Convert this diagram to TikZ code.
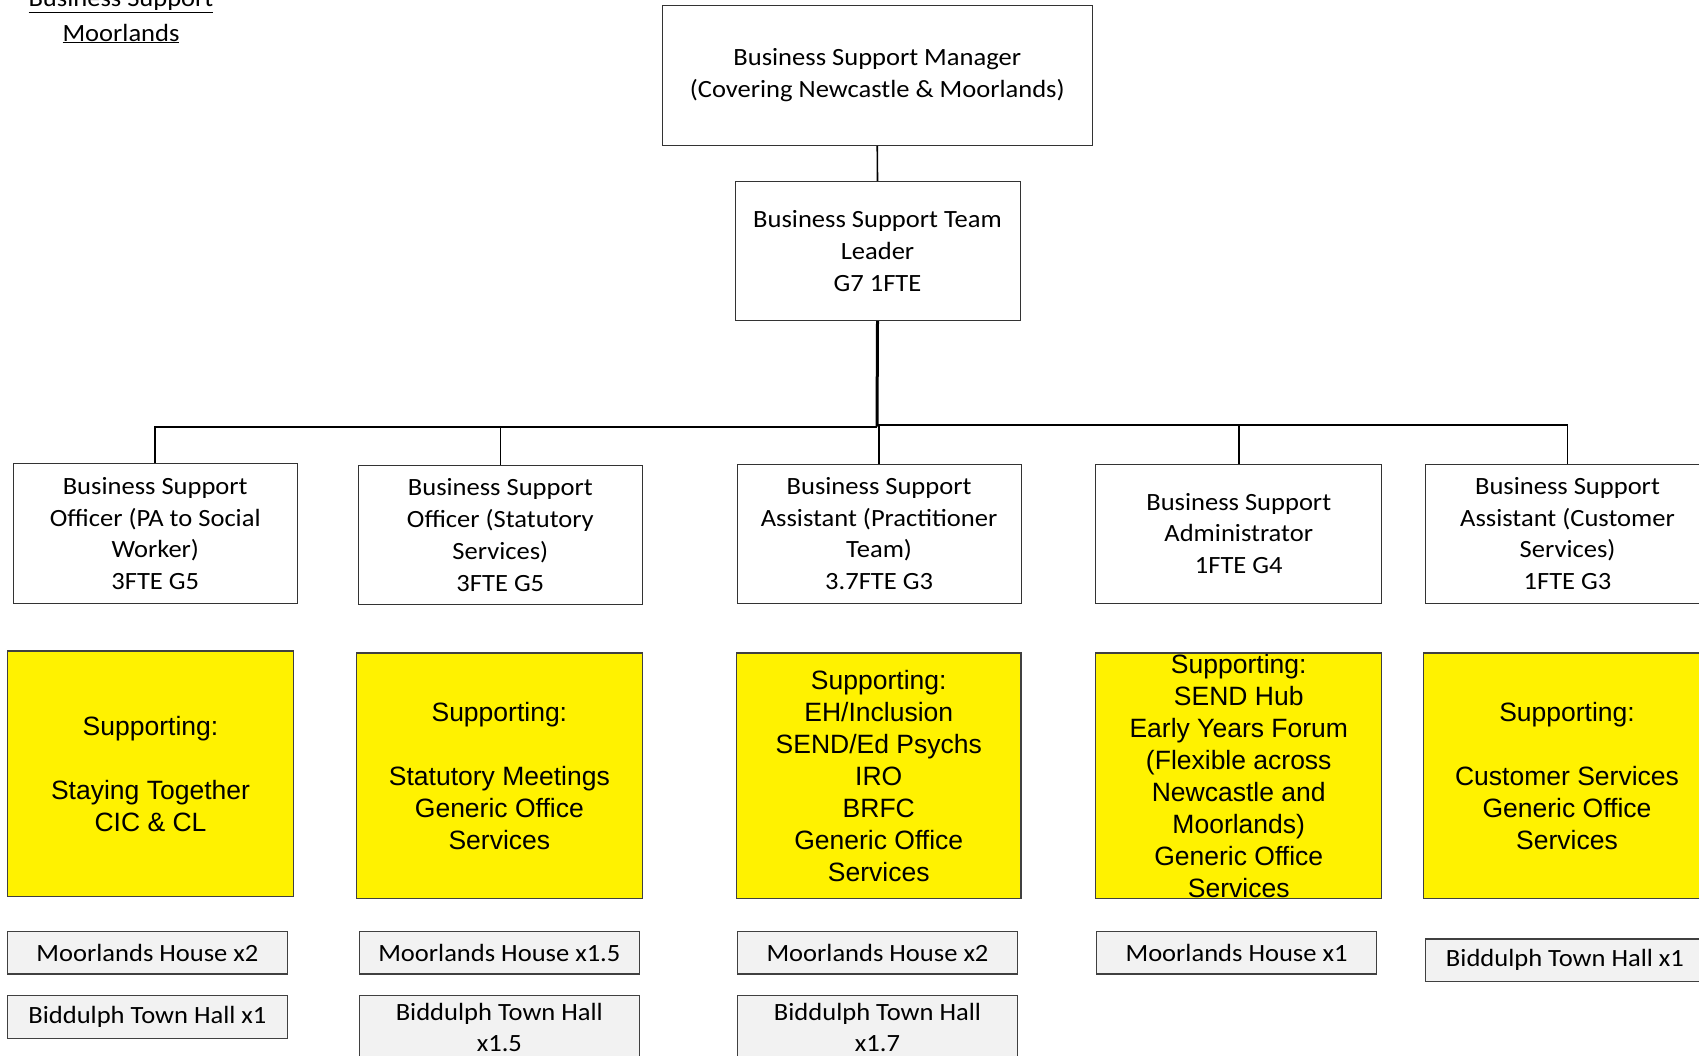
\documentclass[tikz,border=0pt]{standalone}
\usepackage{fontspec}
\setmainfont{Carlito}[FakeStretch=1.07]
\newfontfamily\arialf{Liberation Sans}
\begin{document}
\begin{tikzpicture}[
  x=1pt, y=-1pt,
  box/.style={draw=black!80, line width=1pt, fill=white, inner sep=0pt, align=center,
              font=\fontsize{24.8}{31.7}\selectfont},
  ybox/.style={draw=black!75, line width=1.3pt, fill=yellow, inner sep=0pt, align=center,
              font=\arialf\fontsize{26.5}{32}\selectfont},
  gbox/.style={draw=black!75, line width=1.3pt, fill=black!5, inner sep=0pt, align=center,
              font=\fontsize{24.8}{31}\selectfont},
  titletext/.style={inner sep=0pt, align=center, font=\fontsize{24.8}{34.7}\selectfont},
  conn/.style={line width=1.6pt, black},
]
\useasboundingbox (0,0) rectangle (1699,1055);
\clip (0,0) rectangle (1699,1055);

% title
\node[titletext] (ttl) at (121,16.3) {\underline{Business Support}\\\underline{Moorlands}};

% top levels
\node[box, minimum width=430.5pt, minimum height=140.5pt] (mgr) at (877.25,75.25)
  {Business Support Manager\\(Covering Newcastle \& Moorlands)};
\node[box, minimum width=285pt, minimum height=139pt] (tl) at (877.5,251.2)
  {Business Support Team\\Leader\\G7 1FTE};

% second level
\node[box, minimum width=284.5pt, minimum height=140pt] (b1) at (155.25,533.5)
  {Business Support\\Officer (PA to Social\\Worker)\\3FTE G5};
\node[box, minimum width=284.7pt, minimum height=138.6pt] (b2) at (500.35,535)
  {Business Support\\Officer (Statutory\\Services)\\3FTE G5};
\node[box, minimum width=283.8pt, minimum height=138.7pt] (b3) at (879.1,533.65)
  {Business Support\\Assistant (Practitioner\\Team)\\3.7FTE G3};
\node[box, minimum width=286pt, minimum height=139pt] (b4) at (1238.75,533.5)
  {Business Support\\Administrator\\1FTE G4};
\node[box, minimum width=285pt, minimum height=139pt] (b5) at (1567.5,533.5)
  {Business Support\\Assistant (Customer\\Services)\\1FTE G3};

% yellow boxes
\node[ybox, minimum width=286.2pt, minimum height=245.7pt] (y1) at (150.5,773.85)
  {Supporting:\\\mbox{}\\Staying Together\\CIC \& CL};
\node[ybox, minimum width=285.7pt, minimum height=245.3pt] (y2) at (499.35,775.65)
  {Supporting:\\\mbox{}\\Statutory Meetings\\Generic Office\\Services};
\node[ybox, minimum width=284.5pt, minimum height=245.3pt] (y3) at (878.75,775.65)
  {Supporting:\\EH/Inclusion\\SEND/Ed Psychs\\IRO\\BRFC\\Generic Office\\Services};
\node[ybox, minimum width=285.9pt, minimum height=245.3pt] (y4) at (1238.75,775.65)
  {Supporting:\\SEND Hub\\Early Years Forum\\(Flexible across\\Newcastle and\\Moorlands)\\Generic Office\\Services};
\node[ybox, minimum width=287pt, minimum height=245.3pt] (y5) at (1567,775.65)
  {Supporting:\\\mbox{}\\Customer Services\\Generic Office\\Services};

% grey location boxes
\node[gbox, minimum width=280.1pt, minimum height=42.3pt] (g1a) at (147.45,952.85) {Moorlands House x2};
\node[gbox, minimum width=280.1pt, minimum height=42.6pt] (g1b) at (147.45,1017) {Biddulph Town Hall x1};
\node[gbox, minimum width=279.7pt, minimum height=42.3pt] (g2a) at (499.35,952.85) {Moorlands House x1.5};
\node[gbox, minimum width=279.7pt, minimum height=64.3pt] (g2b) at (499.35,1027.85) {Biddulph Town Hall\\x1.5};
\node[gbox, minimum width=279.4pt, minimum height=42.3pt] (g3a) at (877.5,952.85) {Moorlands House x2};
\node[gbox, minimum width=279.4pt, minimum height=64.3pt] (g3b) at (877.5,1027.85) {Biddulph Town Hall\\x1.7};
\node[gbox, minimum width=280.1pt, minimum height=42.3pt] (g4a) at (1236.55,952.85) {Moorlands House x1};
\node[gbox, minimum width=279.4pt, minimum height=42.3pt] (g5) at (1565,960.15) {Biddulph Town Hall x1};

% connectors
\coordinate (busL) at (877,426.7);
\coordinate (busR) at (877,424.7);
\draw[conn] (mgr.south) -- (tl.north);
\draw[conn, line width=3pt] (tl.south) -- (busL);
\draw[conn] (busL) -| (b1.north);
\draw[conn] (busL) -| (b2.north);
\draw[conn] (busR) -| (b3.north);
\draw[conn] (busR) -| (b4.north);
\draw[conn] (busR) -| (b5.north);
\end{tikzpicture}
\end{document}
